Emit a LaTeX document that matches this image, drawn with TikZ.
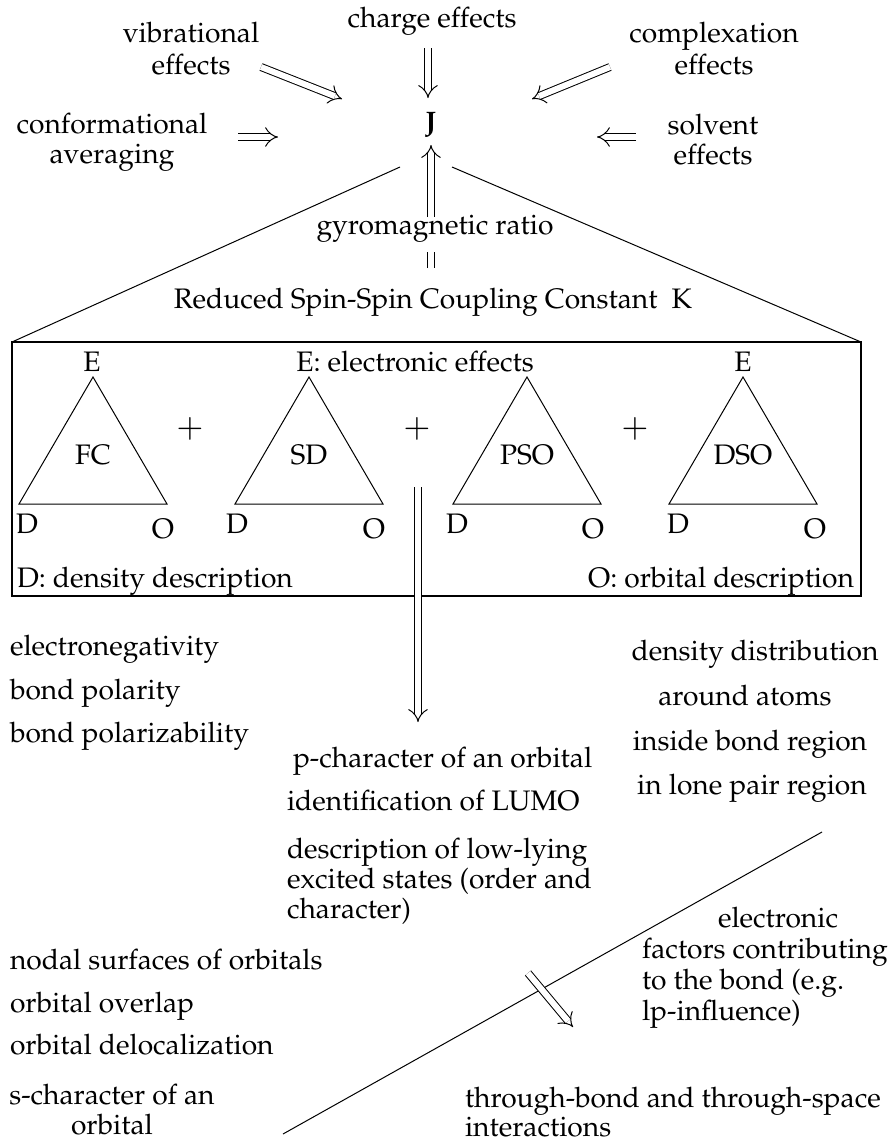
\documentclass[tikz,border=0pt]{standalone}
\usepackage[T1]{fontenc}
\usepackage{mathpazo}
\usetikzlibrary{arrows.meta}
\newcommand\fsz{\fontsize{28.2}{32}\selectfont}
\newcommand\fszb{\fontsize{28.2}{30}\selectfont}
\tikzset{
  every node/.style={inner sep=0pt, outer sep=0pt, font=\fsz},
  dbl/.style={double, double distance=6pt, line width=1pt, -{Implies}},
  dline/.style={double, double distance=6pt, line width=1pt},
  ln/.style={line width=1pt},
  tri/.style={line width=1pt, line join=miter},
  plus/.style={font=\fontsize{33}{33}\selectfont},
}
\begin{document}
\begin{tikzpicture}[x=1pt, y=-1pt]
\useasboundingbox (0,0) rectangle (887,1144);
% top labels
\node[align=center, anchor=north] (vib) at (191,22) {vibrational\\effects};
\node[anchor=mid] (charge) at (432,25) {charge effects};
\node[align=center, anchor=north] (cplx) at (714,22) {complexation\\effects};
\node[align=center, anchor=north, font=\fszb] (conf) at (112,113) {conformational\\averaging};
\node[align=center, anchor=north, font=\fszb] (solv) at (713,114) {solvent\\effects};
\node[font=\fsz\bfseries] (J) at (431,125) {J};
\node[anchor=mid] (gyro) at (435,232) {gyromagnetic ratio};
\node[anchor=mid] (K) at (433,306) {Reduced Spin-Spin Coupling Constant\ \ K};
% arrows into J
\coordinate (vibA) at (261,67);  \coordinate (vibB) at (342,99);
\coordinate (cpA) at (610,67);   \coordinate (cpB) at (532,99);
\coordinate (chA) at (428,48);   \coordinate (chB) at (428,98);
\coordinate (coA) at (238,137);  \coordinate (coB) at (278,137);
\coordinate (soA) at (636,137);  \coordinate (soB) at (597,137);
\coordinate (gyA) at (431,217);  \coordinate (gyB) at (431,145);
\coordinate (kA) at (431,268);   \coordinate (kB) at (431,252);
\draw[dbl] (vibA) -- (vibB);
\draw[dbl] (cpA) -- (cpB);
\draw[dbl] (chA) -- (chB);
\draw[dbl] (coA) -- (coB);
\draw[dbl] (soA) -- (soB);
\draw[dbl] (gyA) -- (gyB);
\draw[dline] (kA) -- (kB);
% box
\node[draw, line width=1.3pt, minimum width=849pt, minimum height=254pt] (box) at (436.5,469) {};
\coordinate (tl) at (400,167); \coordinate (tr) at (452,167);
\draw[ln] (tl) -- (box.north west);
\draw[ln] (tr) -- (box.north east);
% triangles
\foreach \cx/\lab/\i/\dx/\ox in {93/FC/1/27/163, 309/SD/2/237/374, 527/PSO/3/457/593, 743/DSO/4/678/815}{
  \draw[tri] (\cx,377) -- ({\cx-74},504) -- ({\cx+74},504) -- cycle;
  \node (t\i) at (\cx,455) {\lab};
  \node[anchor=base] (D\i) at (\dx,533) {D};
  \node[anchor=base] (O\i) at (\ox,538) {O};
}
\node[anchor=base] (E1) at (92,371) {E};
\node[anchor=base] (E4) at (743,371) {E};
\node[anchor=base] (Elab) at (415,371) {E: electronic effects};
\node[plus] (p1) at (190,429) {$+$};
\node[plus] (p2) at (417,429) {$+$};
\node[plus] (p3) at (635,429) {$+$};
\node[anchor=base west] (Dlab) at (17,587) {D: density description};
\node[anchor=base east] (Olab) at (854,587) {O: orbital description};
% long arrow
\coordinate (la) at (418,487); \coordinate (lb) at (418,722);
\draw[dbl] (la) -- (lb);
% lower left list
\node[anchor=mid west] (en) at (10,653) {electronegativity};
\node[anchor=mid west] (bp) at (10,697) {bond polarity};
\node[anchor=mid west] (bpz) at (10,740) {bond polarizability};
% middle list
\node[anchor=mid west] (pch) at (293,765) {p-character of an orbital};
\node[anchor=mid west] (lumo) at (287,808) {identification of LUMO};
\node[anchor=north west, align=left, font=\fszb] (desc) at (287,838) {description of low-lying\\excited states (order and\\character)};
% right list
\node[anchor=mid] (dd) at (755,658) {density distribution};
\node[anchor=mid] (aa) at (745,703) {around atoms};
\node[anchor=mid] (ib) at (750,748) {inside bond region};
\node[anchor=mid] (lp) at (752,792) {in lone pair region};
% diagonal line and arrow
\coordinate (l1) at (822,832); \coordinate (l2) at (283,1134);
\draw[ln] (l1) -- (l2);
\coordinate (dA) at (528,973); \coordinate (dB) at (573,1027);
\draw[dbl] (dA) -- (dB);
\node[anchor=north west, align=left, font=\fontsize{28.2}{31}\selectfont] (ef) at (642,907) {\hspace*{76pt}electronic\\factors contributing\\to the bond (e.g.\\lp-influence)};
% lower left list 2
\node[anchor=mid west] (ns) at (10,967) {nodal surfaces of orbitals};
\node[anchor=mid west] (oo) at (10,1010) {orbital overlap};
\node[anchor=mid west] (od) at (10,1052) {orbital delocalization};
\node[anchor=north, align=center, font=\fszb] (sch) at (112,1084) {s-character of an\\orbital};
\node[anchor=north west, align=left, font=\fontsize{28.2}{29}\selectfont] (tb) at (465,1087) {through-bond and through-space\\interactions};
\end{tikzpicture}
\end{document}
